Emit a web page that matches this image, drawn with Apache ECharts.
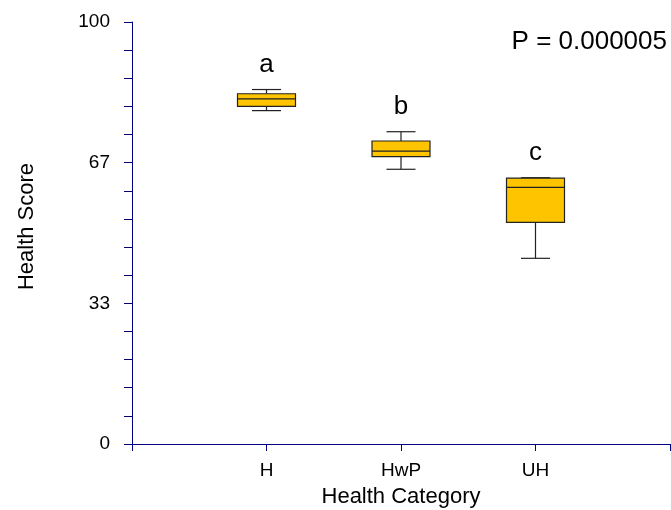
<!DOCTYPE html>
<html>
<head>
<meta charset="utf-8">
<script src="https://cdn.jsdelivr.net/npm/echarts@6/dist/echarts.min.js"></script>
<style>
  html, body { margin: 0; padding: 0; background: #fff; }
  #chart { width: 671px; height: 510px; }
</style>
</head>
<body>
<div id="chart"></div>
<script>
// Health score distribution per health category
const categories = ['H', 'HwP', 'UH'];
const whiskerLow = [79.0, 65.1, 44.0];
const q1 = [80.0, 68.1, 52.5];
const median = [81.8, 69.4, 60.8];
const q3 = [83.0, 71.8, 63.0];
const whiskerHigh = [84.0, 74.0, 63.1];
const groupLetters = ['a', 'b', 'c'];
const yTickValues = [0, 100 / 3, 200 / 3, 100];
const pText = 'P = 0.000005';

const FONT = '"Liberation Sans", Arial, sans-serif';
const AXIS_COLOR = '#000080';

// one row per category: [x position, low, q1, median, q3, high]
const boxRows = categories.map((c, i) => [i + 1, whiskerLow[i], q1[i], median[i], q3[i], whiskerHigh[i]]);

const BOX_W = 58;
const CAP_W = 29;
const STROKE = '#222';

function renderBox(params, api) {
  const x = api.value(0);
  const pLow = api.coord([x, api.value(1)]);
  const pQ1 = api.coord([x, api.value(2)]);
  const pMed = api.coord([x, api.value(3)]);
  const pQ3 = api.coord([x, api.value(4)]);
  const pHigh = api.coord([x, api.value(5)]);
  const cx = pMed[0];
  const lineStyle = { stroke: STROKE, lineWidth: 1.2 };
  return {
    type: 'group',
    children: [
      { type: 'line', shape: { x1: cx, y1: pHigh[1], x2: cx, y2: pQ3[1] }, style: lineStyle },
      { type: 'line', shape: { x1: cx, y1: pQ1[1], x2: cx, y2: pLow[1] }, style: lineStyle },
      { type: 'line', shape: { x1: cx - CAP_W / 2, y1: pHigh[1], x2: cx + CAP_W / 2, y2: pHigh[1] }, style: lineStyle },
      { type: 'line', shape: { x1: cx - CAP_W / 2, y1: pLow[1], x2: cx + CAP_W / 2, y2: pLow[1] }, style: lineStyle },
      {
        type: 'rect',
        shape: { x: cx - BOX_W / 2, y: pQ3[1], width: BOX_W, height: pQ1[1] - pQ3[1] },
        style: { fill: '#FFC400', stroke: STROKE, lineWidth: 1.2 }
      },
      { type: 'line', shape: { x1: cx - BOX_W / 2, y1: pMed[1], x2: cx + BOX_W / 2, y2: pMed[1] }, style: lineStyle },
      {
        type: 'text',
        style: {
          text: groupLetters[params.dataIndex],
          x: cx, y: pHigh[1] - 25,
          align: 'center', verticalAlign: 'middle',
          font: '26px ' + FONT, fill: '#000'
        }
      }
    ]
  };
}

const chart = echarts.init(document.getElementById('chart'), null, { renderer: 'canvas' });
chart.setOption({
  animation: false,
  backgroundColor: '#fff',
  grid: { left: 132, right: 1, top: 22, bottom: 66, outerBoundsMode: 'none' },
  xAxis: {
    type: 'value',
    min: 0, max: categories.length + 1, interval: 1,
    name: 'Health Category',
    nameLocation: 'middle',
    nameGap: 42,
    nameTextStyle: { fontFamily: FONT, fontSize: 22, color: '#000' },
    axisLine: { show: true, lineStyle: { color: AXIS_COLOR, width: 1 } },
    axisTick: { show: true, length: 7, lineStyle: { color: AXIS_COLOR } },
    axisLabel: {
      margin: 17,
      fontFamily: FONT, fontSize: 19, color: '#000',
      formatter: v => categories[v - 1] || ''
    },
    splitLine: { show: false }
  },
  yAxis: {
    type: 'value',
    min: 0, max: 100, interval: 100 / 3,
    name: 'Health Score',
    nameLocation: 'middle',
    nameGap: 94,
    nameTextStyle: { fontFamily: FONT, fontSize: 22, color: '#000', padding: [0, 0, 0, 13] },
    axisLine: { show: true, lineStyle: { color: AXIS_COLOR, width: 1 } },
    axisTick: { show: true, length: 8, lineStyle: { color: AXIS_COLOR } },
    minorTick: { show: true, splitNumber: 5, length: 8, lineStyle: { color: AXIS_COLOR } },
    axisLabel: {
      margin: 22,
      fontFamily: FONT, fontSize: 19, color: '#000',
      formatter: v => {
        const hit = yTickValues.find(t => Math.abs(t - v) < 1e-6);
        return hit === undefined ? '' : String(Math.round(hit));
      }
    },
    splitLine: { show: false }
  },
  graphic: [{
    type: 'text',
    right: 4,
    top: 29,
    style: { text: pText, font: '26px ' + FONT, fill: '#000' }
  }],
  series: [{
    type: 'custom',
    renderItem: renderBox,
    encode: { x: 0, y: [1, 2, 3, 4, 5] },
    data: boxRows,
    clip: false
  }]
});
</script>
</body>
</html>
